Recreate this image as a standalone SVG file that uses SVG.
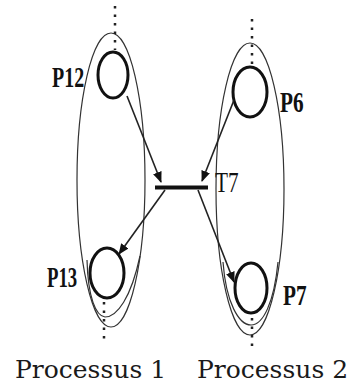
<svg xmlns="http://www.w3.org/2000/svg" width="349" height="387" viewBox="0 0 349 387">
<defs>
<style>
.proc{fill:none;stroke:#333;stroke-width:1.2}
.place{fill:none;stroke:#111;stroke-width:3}
.dots{fill:none;stroke:#222;stroke-width:2.5;stroke-dasharray:2.5 6}
.arc{fill:none;stroke:#222;stroke-width:1.6}
.lbl{font-family:"Liberation Serif",serif;font-weight:bold;font-size:25px;fill:#111}
.cap{font-family:"DejaVu Serif",serif;font-size:25px;fill:#1a1a1a}
</style>
<marker id="ah" markerWidth="11" markerHeight="11" refX="10" refY="5.5" orient="auto" markerUnits="userSpaceOnUse">
<path d="M0,1 L11,5.5 L0,10 Z" fill="#111"/>
</marker>
</defs>
<rect width="349" height="387" fill="#fff"/>
<g id="processus1">
<ellipse class="proc" cx="111" cy="180" rx="34" ry="147"/>
<path class="proc" d="M87,260 C88,298 96,316 105,317 C117,317 131,298 140,256"/>
<text class="cap" x="15" y="378">Processus 1</text>
</g>
<g id="processus2">
<ellipse class="proc" cx="250" cy="189" rx="34" ry="146"/>
<path class="proc" d="M223,262 C226,303 239,325 251,325 C263,325 274,303 278,262"/>
<text class="cap" x="197" y="378">Processus 2</text>
</g>
<g id="P12">
<ellipse class="place" cx="113" cy="75" rx="15" ry="23"/>
<line class="dots" x1="115" y1="6" x2="115" y2="50"/>
<text class="lbl" transform="translate(52,87) scale(0.8,1.2)">P12</text>
</g>
<g id="P13">
<ellipse class="place" cx="107" cy="273" rx="17" ry="25"/>
<line class="dots" x1="104" y1="302" x2="104" y2="344"/>
<text class="lbl" transform="translate(47,287) scale(0.75,1.2)">P13</text>
</g>
<g id="P6">
<ellipse class="place" cx="250" cy="92" rx="17" ry="25"/>
<line class="dots" x1="252" y1="19" x2="252" y2="64"/>
<text class="lbl" transform="translate(280,112) scale(0.85,1.2)">P6</text>
</g>
<g id="P7">
<ellipse class="place" cx="251" cy="288" rx="16" ry="25"/>
<line class="dots" x1="252" y1="318" x2="252" y2="350"/>
<text class="lbl" transform="translate(283,305) scale(0.85,1.2)">P7</text>
</g>
<g id="T7">
<line x1="155" y1="187.5" x2="208" y2="187.5" stroke="#111" stroke-width="4"/>
<text class="lbl" style="font-weight:normal" transform="translate(215,192) scale(0.85,1.2)">T7</text>
</g>
<g id="connectors">
<line class="arc" x1="127" y1="96" x2="161" y2="182" marker-end="url(#ah)"/>
<line class="arc" x1="234" y1="100" x2="202" y2="181" marker-end="url(#ah)"/>
<line class="arc" x1="165" y1="190" x2="119" y2="254" marker-end="url(#ah)"/>
<line class="arc" x1="198" y1="190" x2="234" y2="282" marker-end="url(#ah)"/>
</g>
</svg>
